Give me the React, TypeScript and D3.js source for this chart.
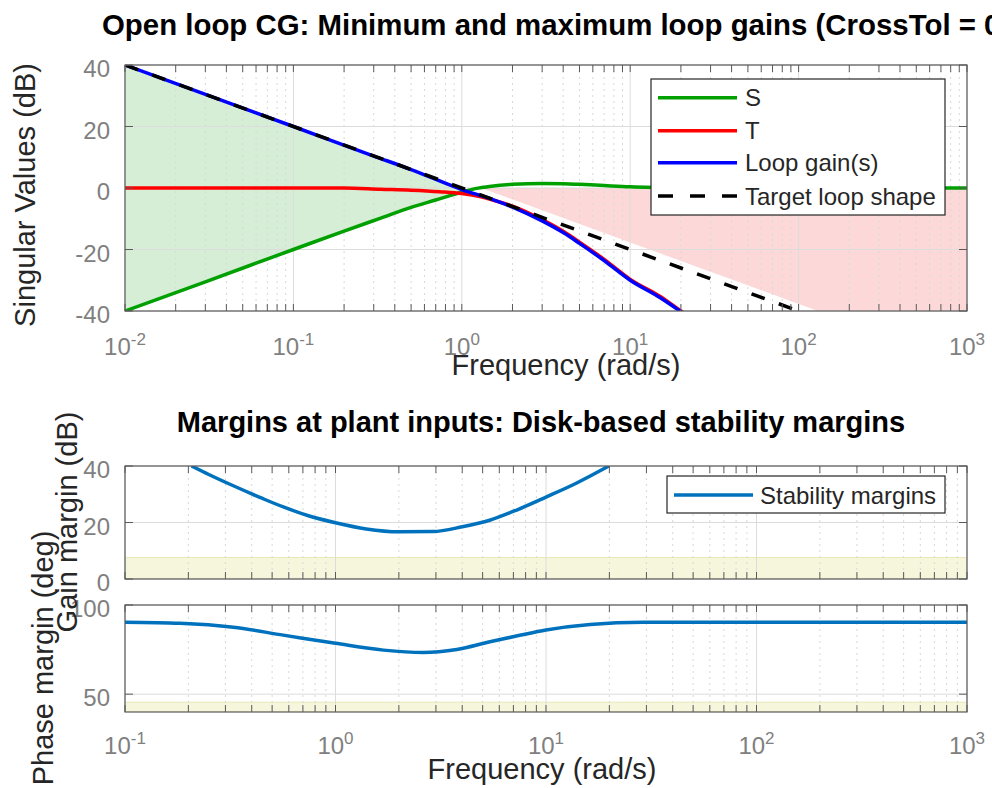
import React from "react";
import * as d3 from "d3";

// ---------------- Top panel data (frequency rad/s, dB) ----------------
const sFreq = [0.01, 0.03, 0.1, 0.2, 0.33, 0.5, 0.7, 0.85, 1, 1.2, 1.5, 2, 3, 4, 5, 7, 10, 20, 50, 1000];
const sDb = [-40, -30.5, -20, -14, -9.8, -6.3, -3.9, -2.5, -1.3, -0.2, 0.6, 1.2, 1.5, 1.4, 1.2, 0.8, 0.4, 0.1, 0, 0];
const tFreq = [0.01, 0.2, 0.33, 0.5, 0.74, 1, 1.3, 1.5, 2, 3, 4, 5, 7, 10, 15, 20, 21];
const tDb = [0, 0, -0.4, -0.7, -1.2, -1.8, -2.9, -3.8, -5.9, -10.3, -14.1, -17.6, -23.2, -29.7, -35.2, -40, -40.8];
const lFreq = [0.01, 0.1, 0.3, 0.5, 1, 1.5, 2, 3, 4, 5, 7, 10, 15, 20, 21];
const lDb = [40, 20, 10.4, 6, -0.5, -3.6, -6.2, -10.7, -14.5, -18, -23.6, -30, -35.6, -40.2, -41];
const targetFreq = [0.01, 100];
const targetDb = [40, -40];
const minBoundFreq = [0.01, 1.07];
const minBoundDb = [40, -0.6];
const maxBoundFreq = [1.3, 1000];
const maxBoundDb = [0, -57.7];
const topXExp = [-2, -1, 0, 1, 2, 3];
const topYTicks = [-40, -20, 0, 20, 40];
const topLegend = ["S", "T", "Loop gain(s)", "Target loop shape"];

// ---------------- Bottom panels data ----------------
const gmFreq = [0.207, 0.25, 0.327, 0.45, 0.565, 0.75, 1, 1.4, 2.0, 2.9, 4, 5.4, 7.3, 10, 14, 19.9];
const gmDb = [40, 37, 33, 28.5, 25.5, 22.3, 19.9, 17.7, 16.7, 16.8, 18.5, 20.8, 24.5, 29, 34, 40];
const pmFreq = [0.1, 0.182, 0.327, 0.565, 1, 1.69, 2.61, 3.77, 5.42, 7.5, 10, 16.2, 29, 100, 1000];
const pmDeg = [90.3, 89.7, 87.5, 83.1, 78.5, 74.7, 73.4, 75.1, 79.4, 83, 86, 89.1, 90.3, 90.3, 90.3];
const gmBand = [0, 7.6];
const pmBand = [40, 45.5];
const botXExp = [-1, 0, 1, 2, 3];
const gmYTicks = [0, 20, 40];
const pmYTicks = [50, 100];
const botLegend = ["Stability margins"];

const FONT = "'Liberation Sans', Arial, Helvetica, sans-serif";
const TICK_COLOR = "#808080";
const LABEL_COLOR = "#262626";
const AXIS_COLOR = "#5a5a5a";

type Scale = { x: d3.ScaleLogarithmic<number, number>; y: d3.ScaleLinear<number, number> };

function minorValues(lo: number, hi: number) {
  const out: number[] = [];
  for (let e = lo; e < hi; e++) {
    for (let m = 2; m <= 9; m++) out.push(m * Math.pow(10, e));
  }
  return out;
}

function Frame({ id, sc, xExp, yTicks, showXLabels, xLabelY, children }: any) {
  const { x, y } = sc as Scale;
  const [x0, x1] = x.range();
  const [y0, y1] = y.range(); // y0 bottom, y1 top
  const minors = minorValues(xExp[0], xExp[xExp.length - 1]);
  const majors = xExp.map((e: number) => Math.pow(10, e));
  return (
    <g>
      <defs>
        <clipPath id={id}>
          <rect x={x0} y={y1} width={x1 - x0} height={y0 - y1} />
        </clipPath>
      </defs>
      <rect x={x0} y={y1} width={x1 - x0} height={y0 - y1} fill="#fff" />
      <g clipPath={`url(#${id})`}>{children[0]}</g>
      {/* grid */}
      <g>
        {minors.map((v: number, i: number) => (
          <line key={"mg" + i} x1={x(v)} x2={x(v)} y1={y1} y2={y0} stroke="#d8d8d8" strokeWidth={1} strokeDasharray="2,4" />
        ))}
        {majors.map((v: number, i: number) => (
          <line key={"Mg" + i} x1={x(v)} x2={x(v)} y1={y1} y2={y0} stroke="#dcdcdc" strokeWidth={1} />
        ))}
        {yTicks.map((v: number, i: number) => (
          <line key={"yg" + i} x1={x0} x2={x1} y1={y(v)} y2={y(v)} stroke="#dcdcdc" strokeWidth={1} />
        ))}
      </g>
      <g clipPath={`url(#${id})`}>{children[1]}</g>
      {/* ticks */}
      <g stroke={AXIS_COLOR} strokeWidth={1}>
        {[...minors, ...majors].map((v: number, i: number) => (
          <g key={"t" + i}>
            <line x1={x(v)} x2={x(v)} y1={y0} y2={y0 - 7} />
            <line x1={x(v)} x2={x(v)} y1={y1} y2={y1 + 7} />
          </g>
        ))}
        {yTicks.map((v: number, i: number) => (
          <g key={"yt" + i}>
            <line x1={x0} x2={x0 + 8} y1={y(v)} y2={y(v)} />
            <line x1={x1} x2={x1 - 8} y1={y(v)} y2={y(v)} />
          </g>
        ))}
      </g>
      <rect x={x0} y={y1} width={x1 - x0} height={y0 - y1} fill="none" stroke={AXIS_COLOR} strokeWidth={1.2} />
      {/* y tick labels */}
      {yTicks.map((v: number, i: number) => (
        <text key={"yl" + i} x={x0 - 15} y={y(v) + 12} textAnchor="end" fontSize={24} fill={TICK_COLOR} fontFamily={FONT}>
          {v}
        </text>
      ))}
      {showXLabels &&
        xExp.map((e: number, i: number) => (
          <text key={"xl" + i} x={x(Math.pow(10, e))} y={xLabelY} textAnchor="middle" fontSize={24} fill={TICK_COLOR} fontFamily={FONT}>
            <tspan>10</tspan>
            <tspan fontSize={17} dy={-10}>{String(e)}</tspan>
          </text>
        ))}
    </g>
  );
}

export default function App() {
  // scales
  const topX = d3.scaleLog().domain([0.01, 1000]).range([125, 967]);
  const topY = d3.scaleLinear().domain([-40, 40]).range([311, 65]);
  const gX = d3.scaleLog().domain([0.1, 1000]).range([125, 967]);
  const gY = d3.scaleLinear().domain([0, 40]).range([579, 466]);
  const pY = d3.scaleLinear().domain([40, 100]).range([712, 605]);

  const zip = (a: number[], b: number[]) => a.map((v, i) => [v, b[i]] as [number, number]);

  const topPoly = d3
    .line<[number, number]>()
    .x((d) => topX(d[0]))
    .y((d) => topY(d[1]));
  const topCurve = d3
    .line<[number, number]>()
    .x((d) => topX(d[0]))
    .y((d) => topY(d[1]))
    .curve(d3.curveMonotoneX);

  // green region: between min bound (upper) and S (lower)
  const sLow = zip(sFreq, sDb).filter((d) => d[0] < minBoundFreq[1]);
  const greenPoly = [...zip(minBoundFreq, minBoundDb), ...sLow.reverse()];
  // red region: above max bound, below 0 dB
  const redPoly: [number, number][] = [...zip(maxBoundFreq, maxBoundDb), [maxBoundFreq[1], maxBoundDb[0]]];

  const gLine = d3
    .line<[number, number]>()
    .x((d) => gX(d[0]))
    .y((d) => gY(d[1]))
    .curve(d3.curveMonotoneX);
  const pLine = d3
    .line<[number, number]>()
    .x((d) => gX(d[0]))
    .y((d) => pY(d[1]))
    .curve(d3.curveMonotoneX);

  const topColors = ["#00a000", "#ff0000", "#0000ff", "#000000"];
  const legendYs = [97.7, 130.7, 162.7, 196];

  return (
    <svg width={992} height={788} style={{ position: "absolute", left: 0, top: 0, background: "#fff" }} fontFamily={FONT}>
      <rect x={0} y={0} width={992} height={788} fill="#fff" />
      {/* ---------- Top panel ---------- */}
      <Frame id="clipTop" sc={{ x: topX, y: topY }} xExp={topXExp} yTicks={topYTicks} showXLabels xLabelY={355}>
        <g>
          <path d={topPoly(greenPoly) + "Z"} fill="#d6eed6" />
          <path d={topPoly(redPoly) + "Z"} fill="#fdd8d8" />
        </g>
        <g fill="none" strokeWidth={3.5} strokeLinejoin="round">
          <path d={topCurve(zip(sFreq, sDb)) || ""} stroke={topColors[0]} />
          <path d={topCurve(zip(tFreq, tDb)) || ""} stroke={topColors[1]} />
          <path d={topCurve(zip(lFreq, lDb)) || ""} stroke={topColors[2]} />
          <path d={topPoly(zip(targetFreq, targetDb)) || ""} stroke={topColors[3]} strokeDasharray="14,15" />
        </g>
      </Frame>
      <text x={102} y={35} fontSize={29.4} fontWeight="bold" fill="#000">
        Open loop CG: Minimum and maximum loop gains (CrossTol = 0.3)
      </text>
      <text x={566} y={375} fontSize={29} textAnchor="middle" fill={LABEL_COLOR}>
        Frequency (rad/s)
      </text>
      <text transform="translate(35,195) rotate(-90)" fontSize={29} textAnchor="middle" fill={LABEL_COLOR}>
        Singular Values (dB)
      </text>
      {/* top legend */}
      <g>
        <rect x={651} y={79} width={294} height={136} fill="#fff" stroke="#262626" strokeWidth={1.2} />
        {topLegend.map((name, i) => (
          <g key={name}>
            <line x1={658} x2={737} y1={legendYs[i]} y2={legendYs[i]} stroke={topColors[i]} strokeWidth={3.5} strokeDasharray={i === 3 ? "15,17" : undefined} />
            <text x={745} y={legendYs[i] + 8.5} fontSize={24} fill={LABEL_COLOR}>
              {name}
            </text>
          </g>
        ))}
      </g>

      {/* ---------- Bottom title ---------- */}
      <text x={541} y={432} fontSize={29} fontWeight="bold" textAnchor="middle" fill="#000">
        Margins at plant inputs: Disk-based stability margins
      </text>

      {/* ---------- Gain margin panel ---------- */}
      <Frame id="clipGain" sc={{ x: gX, y: gY }} xExp={botXExp} yTicks={gmYTicks} showXLabels={false} xLabelY={0}>
        <g>
          <rect x={gX(0.1)} y={gY(gmBand[1])} width={gX(1000) - gX(0.1)} height={gY(gmBand[0]) - gY(gmBand[1])} fill="#f6f6dc" stroke="#e8e8b8" strokeWidth={1} />
        </g>
        <g fill="none" strokeWidth={3.5}>
          <path d={gLine(zip(gmFreq, gmDb)) || ""} stroke="#0072bd" />
        </g>
      </Frame>
      <g>
        <rect x={667} y={476} width={278} height={37} fill="#fff" stroke="#262626" strokeWidth={1.2} />
        <line x1={674} x2={753} y1={495} y2={495} stroke="#0072bd" strokeWidth={3.5} />
        <text x={760} y={503.5} fontSize={24} fill={LABEL_COLOR}>
          {botLegend[0]}
        </text>
      </g>

      {/* ---------- Phase margin panel ---------- */}
      <Frame id="clipPhase" sc={{ x: gX, y: pY }} xExp={botXExp} yTicks={pmYTicks} showXLabels xLabelY={754}>
        <g>
          <rect x={gX(0.1)} y={pY(pmBand[1])} width={gX(1000) - gX(0.1)} height={pY(pmBand[0]) - pY(pmBand[1])} fill="#f6f6dc" stroke="#e8e8b8" strokeWidth={1} />
        </g>
        <g fill="none" strokeWidth={3.5}>
          <path d={pLine(zip(pmFreq, pmDeg)) || ""} stroke="#0072bd" />
        </g>
      </Frame>
      <text x={542} y={779} fontSize={29} textAnchor="middle" fill={LABEL_COLOR}>
        Frequency (rad/s)
      </text>
      <text transform="translate(77,522) rotate(-90)" fontSize={29} textAnchor="middle" fill={LABEL_COLOR}>
        Gain margin (dB)
      </text>
      <text transform="translate(53,658) rotate(-90)" fontSize={29} textAnchor="middle" fill={LABEL_COLOR}>
        Phase margin (deg)
      </text>
    </svg>
  );
}
